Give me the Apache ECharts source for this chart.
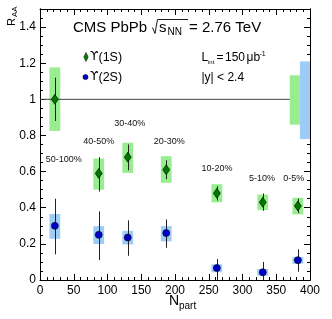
<!DOCTYPE html>
<html><head><meta charset="utf-8">
<script src="https://cdn.jsdelivr.net/npm/echarts@6/dist/echarts.min.js"></script>
<style>html,body{margin:0;padding:0;background:#fff}#c{width:332px;height:319px}</style>
</head><body><div id="c"></div>
<script>
// ---- data ----
const npart      = [22, 87, 130, 187, 262, 330, 382];
const centrality = ['50-100%','40-50%','30-40%','20-30%','10-20%','5-10%','0-5%'];
const raa1S      = [1.00, 0.59, 0.68, 0.61, 0.48, 0.43, 0.41];
const stat1S_lo  = [0.88, 0.49, 0.607, 0.558, 0.44, 0.383, 0.37];
const stat1S_hi  = [1.12, 0.68, 0.75, 0.663, 0.52, 0.479, 0.45];
const syst1S_lo  = [0.825, 0.50, 0.593, 0.538, 0.43, 0.387, 0.363];
const syst1S_hi  = [1.177, 0.672, 0.76, 0.685, 0.53, 0.473, 0.455];
const raa2S      = [0.30, 0.25, 0.235, 0.26, 0.066, 0.043, 0.11];
const stat2S_lo  = [0.142, 0.11, 0.134, 0.178, 0.0, 0.0, 0.046];
const stat2S_hi  = [0.45, 0.38, 0.33, 0.335, 0.116, 0.10, 0.17];
const syst2S_lo  = [0.228, 0.199, 0.197, 0.214, 0.043, 0.024, 0.09];
const syst2S_hi  = [0.365, 0.298, 0.272, 0.298, 0.087, 0.061, 0.127];
const global1S   = [370, 385, 0.86, 1.133];   // x0, x1, lo, hi
const global2S   = [385, 400, 0.78, 1.21];
const refValue   = 1;
const xTicks     = [0, 400, 50];
const yTicks     = [0, 1.5, 0.2];

// ---- layout / style ----
const BOX_HW = 8;
const FONT = '"Liberation Sans", Arial, sans-serif';
const FONT_DV = '"DejaVu Sans", sans-serif';
const GREEN_BOX = '#98ee8e', BLUE_BOX = '#9dccf7';
const labelPos = [[63.8,163],[98.8,145],[129.7,126.7],[169.3,145],[217,171.7],[262,181.7],[293.7,181.7]];

function T(text, x, base, size, extra, fam) {
  return Object.assign({type:'text', x:x, y: base - 0.35*size, silent:true,
    style:{text:text, fill:'#000', font: size+'px '+(fam||FONT), align:'left', verticalAlign:'middle'}}, extra||{});
}

const chart = echarts.init(document.getElementById('c'), null, {renderer:'canvas'});

const axisCommon = {splitLine:{show:false}, axisLine:{show:true, onZero:false, lineStyle:{color:'#000', width:1}}};
function xAx(pos, labels){
  return Object.assign({type:'value', min:xTicks[0], max:xTicks[1], interval:xTicks[2], position:pos,
    axisTick:{show:true, inside:true, length:6, lineStyle:{color:'#000'}},
    minorTick:{show:true, splitNumber:5, length:3, lineStyle:{color:'#000'}},
    axisLabel:{show:labels, fontSize:12, color:'#000', fontFamily:FONT, margin:5}}, axisCommon);
}
function yAx(pos, interval, len, labels){
  return Object.assign({type:'value', min:yTicks[0], max:yTicks[1], interval:interval, position:pos,
    axisTick:{show:true, inside:true, length:len, lineStyle:{color:'#000'}},
    axisLabel:{show:labels, fontSize:12, color:'#000', fontFamily:FONT, margin:4, showMaxLabel:false}}, axisCommon);
}

function boxSeries(lo, hi, color){
  return {type:'custom', xAxisIndex:0, yAxisIndex:0, z:1, silent:true,
    data: npart.map((x,i)=>[x, lo[i], hi[i]]),
    encode:{x:0, y:[1,2]},
    renderItem:function(params, api){
      const a = api.coord([api.value(0)-BOX_HW, api.value(2)]);
      const b = api.coord([api.value(0)+BOX_HW, api.value(1)]);
      return {type:'rect', shape:{x:a[0], y:a[1], width:b[0]-a[0], height:b[1]-a[1]}, style:{fill:color}};
    }};
}
function globalSeries(g, color){
  return {type:'custom', xAxisIndex:0, yAxisIndex:0, z:3, silent:true,
    data:[g], encode:{x:[0,1], y:[2,3]},
    renderItem:function(params, api){
      const a = api.coord([api.value(0), api.value(3)]);
      const b = api.coord([api.value(1), api.value(2)]);
      return {type:'rect', shape:{x:a[0], y:a[1], width:b[0]-a[0], height:b[1]-a[1]}, style:{fill:color}};
    }};
}
function errSeries(lo, hi){
  return {type:'custom', xAxisIndex:0, yAxisIndex:0, z:4, silent:true,
    data: npart.map((x,i)=>[x, lo[i], hi[i]]),
    encode:{x:0, y:[1,2]},
    renderItem:function(params, api){
      const a = api.coord([api.value(0), api.value(2)]);
      const b = api.coord([api.value(0), api.value(1)]);
      const xx = Math.round(a[0]) + 0.5;
      return {type:'line', shape:{x1:xx, y1:a[1], x2:xx, y2:b[1]}, style:{stroke:'#222', lineWidth:1}};
    }};
}

const graphics = [
  // title
  T('CMS PbPb', 73, 33, 15),
  {type:'polyline', silent:true, shape:{points:[[152.5,27.5],[155,33.5],[157.5,19.5],[188,19.5]]}, style:{stroke:'#000', lineWidth:0.9, fill:null}},
  T('s', 159, 33, 15),
  T('NN', 167.5, 36, 10),
  T('= 2.76 TeV', 189, 33, 15),
  // legend
  {type:'polygon', silent:true, shape:{points:[[86,52.5],[88.2,57],[86,61.5],[83.8,57]]}, style:{fill:'#008000', stroke:'#000', lineWidth:0.5}},
  T('\u03d2', 90, 61.5, 12, null, FONT_DV),
  T('(1S)', 98.5, 61.5, 12.5),
  {type:'circle', silent:true, shape:{cx:85.5, cy:77, r:2.6}, style:{fill:'#0000cc', stroke:'#000', lineWidth:0.5}},
  T('\u03d2', 90, 81.5, 12, null, FONT_DV),
  T('(2S)', 98.5, 81.5, 12.5),
  T('L', 201.5, 62, 12),
  T('int', 208, 64.5, 6),
  T('=', 216.5, 62, 12),
  T('150', 225, 62, 12),
  T('\u03bcb', 246.5, 62, 12),
  T('-1', 259.5, 56.5, 7),
  T('|y| < 2.4', 201.5, 81.5, 12),
  // axis titles
  T('N', 169, 306, 14),
  T('part', 179, 309.5, 10),
  T('R', 0, 0, 11, {rotation:Math.PI/2, x:12.2, y:26}),
  T('AA', 0, 0, 8, {rotation:Math.PI/2, x:14.7, y:17})
];
centrality.forEach((c,i)=>{
  const g = T(c, labelPos[i][0], labelPos[i][1], 9);
  g.style.align = 'center'; g.style.fill = '#111';
  graphics.push(g);
});

chart.setOption({
  animation:false,
  grid:{left:40, right:22, top:9, bottom:39, containLabel:false},
  xAxis:[xAx('bottom', true), xAx('top', false)],
  yAxis:[yAx('left', yTicks[2], 6, true), yAx('left', 0.05, 3, false),
         yAx('right', yTicks[2], 6, false), yAx('right', 0.05, 3, false)],
  series:[
    boxSeries(syst1S_lo, syst1S_hi, GREEN_BOX),
    boxSeries(syst2S_lo, syst2S_hi, BLUE_BOX),
    {type:'line', xAxisIndex:0, yAxisIndex:0, z:2, silent:true, symbol:'none',
     data:[[xTicks[0], refValue],[xTicks[1], refValue]], lineStyle:{color:'#444', width:1}},
    globalSeries(global1S, GREEN_BOX),
    globalSeries(global2S, BLUE_BOX),
    errSeries(stat1S_lo, stat1S_hi),
    errSeries(stat2S_lo, stat2S_hi),
    {type:'scatter', xAxisIndex:0, yAxisIndex:0, z:5, silent:true, symbol:'diamond', symbolSize:[7,10],
     data: npart.map((x,i)=>[x, raa1S[i]]), itemStyle:{color:'#007800', borderColor:'#000', borderWidth:0.6, opacity:1}},
    {type:'scatter', xAxisIndex:0, yAxisIndex:0, z:5, silent:true, symbol:'circle', symbolSize:7,
     data: npart.map((x,i)=>[x, raa2S[i]]), itemStyle:{color:'#0000cc', borderColor:'#000', borderWidth:0.6, opacity:1}}
  ],
  graphic: graphics
});
</script></body></html>
